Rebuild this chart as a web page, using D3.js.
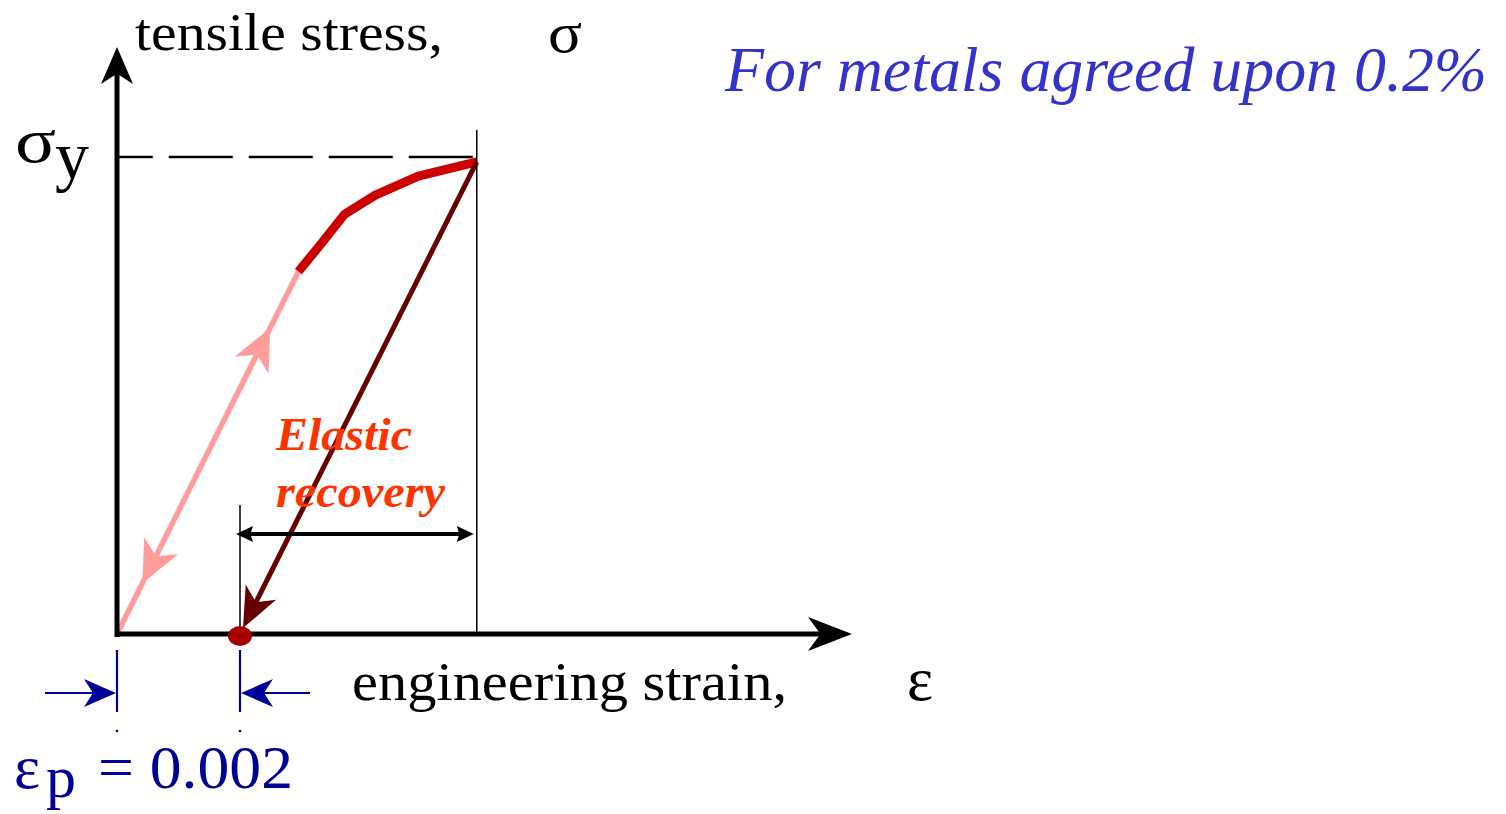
<!DOCTYPE html>
<html>
<head>
<meta charset="utf-8">
<script src="https://cdn.jsdelivr.net/npm/d3@7"></script>
<style>
  body { margin: 0; background: #fff; }
</style>
</head>
<body>
<div id="chart"></div>
<script>
// stress-strain curve (stress normalised to yield stress sigma_y = 1)
var strain = [0, 0.00295, 0.0033, 0.0037, 0.0042, 0.0049, 0.00585];
var stress = [0, 0.76, 0.815, 0.88, 0.92, 0.96, 0.99];
var plasticStrain = 0.002;   // eps_p offset
var yieldStress = 1.0;

var width = 1506, height = 814;
var serif = "'Liberation Serif', 'Times New Roman', serif";

var svg = d3.select("#chart")
  .append("svg")
    .attr("width", width)
    .attr("height", height)
    .attr("font-family", serif);

// scales
var x = d3.scaleLinear().domain([0, 0.012]).range([117, 855]);
var y = d3.scaleLinear().domain([0, 1]).range([634, 157]);

var pts = strain.map(function (d, i) { return [d, stress[i]]; });
var line = d3.line().x(function (d) { return x(d[0]); }).y(function (d) { return y(d[1]); });

// notched arrow head, tip at (px,py) pointing along angle a
function arrowHead(g, px, py, a, L, W, color, notch) {
  var n = notch || 0.72;
  g.append("path")
    .attr("d", "M0,0 L" + (-L) + "," + (-W) + " L" + (-L * n) + ",0 L" + (-L) + "," + W + " Z")
    .attr("transform", "translate(" + px + "," + py + ") rotate(" + (a * 180 / Math.PI) + ")")
    .attr("fill", color);
}

// dashed sigma_y line and vertical guide at yield point
var last = pts[pts.length - 1];
svg.append("line")
  .attr("x1", x(last[0]) - 4).attr("x2", x(0))
  .attr("y1", y(yieldStress)).attr("y2", y(yieldStress))
  .attr("stroke", "#000").attr("stroke-width", 2.5)
  .attr("stroke-dasharray", "64,16");
svg.append("line")
  .attr("x1", x(last[0])).attr("x2", x(last[0]))
  .attr("y1", 130).attr("y2", y(0))
  .attr("stroke", "#000").attr("stroke-width", 1.5);

// vertical guide at eps_p
svg.append("line")
  .attr("x1", x(plasticStrain)).attr("x2", x(plasticStrain))
  .attr("y1", 505).attr("y2", y(0))
  .attr("stroke", "#000").attr("stroke-width", 1.5);

// elastic part (pink)
var e0 = pts[0], e1 = pts[1];
svg.append("path").datum([e0, e1])
  .attr("d", line)
  .attr("fill", "none").attr("stroke", "#ff9c9c").attr("stroke-width", 5.5);
var ang = Math.atan2(y(e1[1]) - y(e0[1]), x(e1[0]) - x(e0[0]));
function along(f) {
  return [x(e0[0]) + f * (x(e1[0]) - x(e0[0])), y(e0[1]) + f * (y(e1[1]) - y(e0[1]))];
}
var up = along(0.845), down = along(0.14);
arrowHead(svg, up[0], up[1], ang, 42, 19, "#ff9c9c");
arrowHead(svg, down[0], down[1], ang + Math.PI, 42, 19, "#ff9c9c");

// plastic part (red)
svg.append("path").datum(pts.slice(1))
  .attr("d", line)
  .attr("fill", "none").attr("stroke", "#cc0000").attr("stroke-width", 9)
  .attr("stroke-linejoin", "round");

// unloading line (dark red)
var ux1 = x(last[0]), uy1 = y(last[1]), ux2 = x(plasticStrain), uy2 = y(0);
var ua = Math.atan2(uy2 - uy1, ux2 - ux1);
svg.append("line")
  .attr("x1", ux1).attr("y1", uy1)
  .attr("x2", ux2 + 18 * Math.cos(ua + Math.PI)).attr("y2", uy2 + 18 * Math.sin(ua + Math.PI))
  .attr("stroke", "#660000").attr("stroke-width", 5);
arrowHead(svg, ux2 + 3, uy2 - 6, ua, 40, 17, "#660000");

// axes
svg.append("line")
  .attr("x1", x(0)).attr("x2", x(0)).attr("y1", y(0) + 3).attr("y2", 70)
  .attr("stroke", "#000").attr("stroke-width", 5);
arrowHead(svg, x(0), 47, -Math.PI / 2, 37, 16, "#000");
svg.append("line")
  .attr("x1", x(0) - 2).attr("x2", 830).attr("y1", y(0)).attr("y2", y(0))
  .attr("stroke", "#000").attr("stroke-width", 5);
arrowHead(svg, 852, y(0), 0, 44, 17, "#000");

// plastic strain dot
svg.append("ellipse")
  .attr("cx", x(plasticStrain)).attr("cy", y(0) + 2)
  .attr("rx", 12).attr("ry", 10)
  .attr("fill", "#a80000");

// elastic recovery double arrow
var ry = 534;
svg.append("line")
  .attr("x1", x(plasticStrain) + 6).attr("x2", x(last[0]) - 10)
  .attr("y1", ry).attr("y2", ry)
  .attr("stroke", "#000").attr("stroke-width", 4);
arrowHead(svg, x(plasticStrain) - 4, ry, Math.PI, 17, 8, "#000", 0.85);
arrowHead(svg, x(last[0]) - 3, ry, 0, 17, 8, "#000", 0.85);

svg.append("text")
  .attr("x", 276).attr("y", 450)
  .attr("font-size", 46).attr("font-weight", "bold").attr("font-style", "italic")
  .attr("fill", "#ff3300")
  .attr("textLength", 136).attr("lengthAdjust", "spacingAndGlyphs")
  .text("Elastic");
svg.append("text")
  .attr("x", 276).attr("y", 507)
  .attr("font-size", 46).attr("font-weight", "bold").attr("font-style", "italic")
  .attr("fill", "#ff3300")
  .attr("textLength", 169).attr("lengthAdjust", "spacingAndGlyphs")
  .text("recovery");

// eps_p dimension marks (blue)
var blue = "#000099";
[0, plasticStrain].forEach(function (s) {
  svg.append("line")
    .attr("x1", x(s)).attr("x2", x(s)).attr("y1", 650).attr("y2", 712)
    .attr("stroke", blue).attr("stroke-width", 2.2);
  svg.append("circle")
    .attr("cx", x(s)).attr("cy", 731).attr("r", 1.3).attr("fill", blue);
});
svg.append("line")
  .attr("x1", 45).attr("x2", x(0) - 10).attr("y1", 693).attr("y2", 693)
  .attr("stroke", blue).attr("stroke-width", 2.2);
arrowHead(svg, x(0) - 1, 693, 0, 32, 14, blue);
svg.append("line")
  .attr("x1", 310).attr("x2", x(plasticStrain) + 10).attr("y1", 693).attr("y2", 693)
  .attr("stroke", blue).attr("stroke-width", 2.2);
arrowHead(svg, x(plasticStrain) + 1, 693, Math.PI, 32, 14, blue);

// labels
svg.append("text")
  .attr("x", 135).attr("y", 50)
  .attr("font-size", 53)
  .attr("textLength", 308).attr("lengthAdjust", "spacingAndGlyphs")
  .text("tensile stress,");
svg.append("text")
  .attr("x", 548).attr("y", 52)
  .attr("font-size", 58)
  .attr("textLength", 34).attr("lengthAdjust", "spacingAndGlyphs")
  .text("σ");

svg.append("text")
  .attr("x", 15).attr("y", 162)
  .attr("font-size", 64)
  .attr("textLength", 41).attr("lengthAdjust", "spacingAndGlyphs")
  .text("σ");
svg.append("text")
  .attr("x", 55).attr("y", 179)
  .attr("font-size", 68)
  .text("y");

svg.append("text")
  .attr("x", 352).attr("y", 700)
  .attr("font-size", 55)
  .attr("textLength", 435).attr("lengthAdjust", "spacingAndGlyphs")
  .text("engineering strain,");
svg.append("text")
  .attr("x", 907).attr("y", 700)
  .attr("font-size", 62)
  .text("ε");

svg.append("text")
  .attr("x", 14).attr("y", 788)
  .attr("font-size", 62).attr("fill", blue)
  .text("ε");
svg.append("text")
  .attr("x", 46).attr("y", 797)
  .attr("font-size", 60).attr("fill", blue)
  .text("p");
svg.append("text")
  .attr("x", 98).attr("y", 788)
  .attr("font-size", 62).attr("fill", blue)
  .attr("textLength", 195).attr("lengthAdjust", "spacingAndGlyphs")
  .text("= 0.002");

svg.append("text")
  .attr("x", 725).attr("y", 91)
  .attr("font-size", 64).attr("font-style", "italic")
  .attr("fill", "#3333cc")
  .attr("textLength", 762).attr("lengthAdjust", "spacingAndGlyphs")
  .text("For metals agreed upon 0.2%");
</script>
</body>
</html>
